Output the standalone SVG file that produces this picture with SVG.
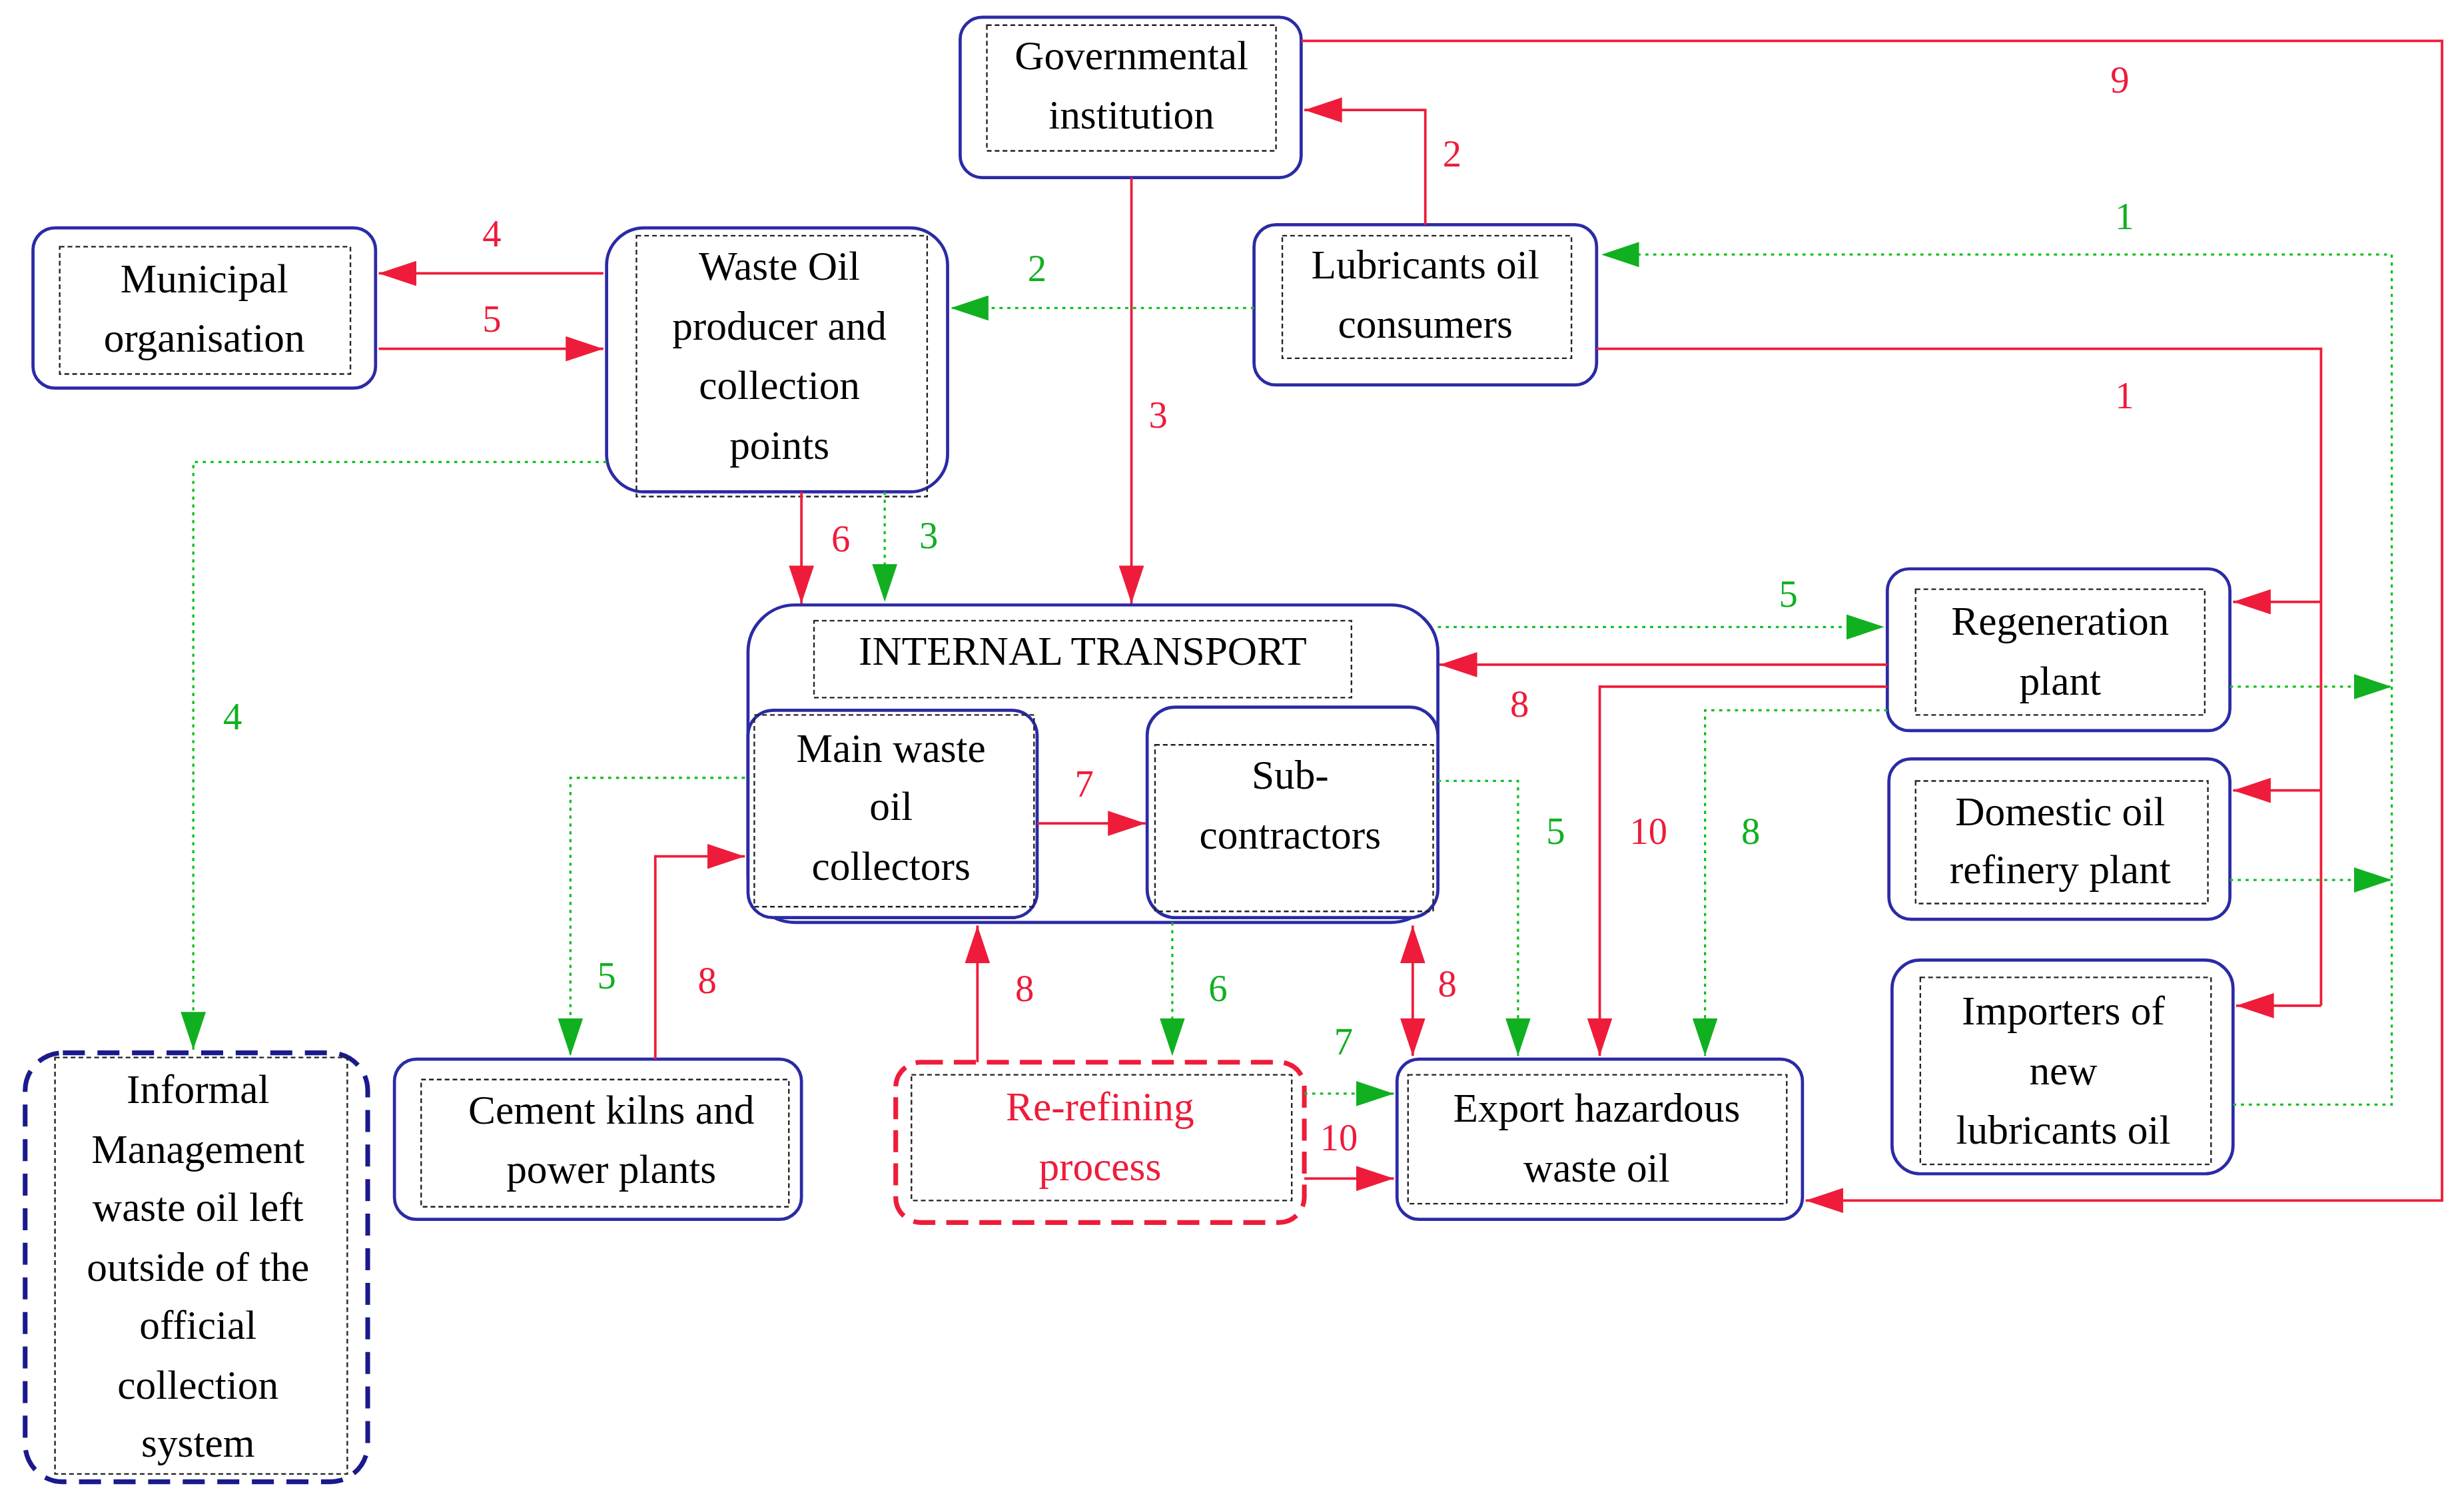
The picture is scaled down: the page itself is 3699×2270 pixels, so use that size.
<svg xmlns="http://www.w3.org/2000/svg" width="3699" height="2270" viewBox="0 0 3699 2270">
<style>
.box{fill:#fff;stroke:#2b2ba6;stroke-width:2}
.in{fill:none;stroke:#222;stroke-width:1;stroke-dasharray:3 2}
.t{font-family:"Liberation Serif",serif;font-size:26px;fill:#000;text-anchor:middle}
.r{fill:none;stroke:#ee1c3a;stroke-width:1.6}
.g{fill:none;stroke:#10c020;stroke-width:1.4;stroke-dasharray:2 3}
.lr{font-family:"Liberation Serif",serif;font-size:24px;fill:#ee1c3a;text-anchor:middle}
.lg{font-family:"Liberation Serif",serif;font-size:24px;fill:#10b020;text-anchor:middle}
</style>
<defs>
<marker id="ar" markerUnits="userSpaceOnUse" markerWidth="24" markerHeight="16" refX="24" refY="8" orient="auto-start-reverse" viewBox="0 0 24 16"><path d="M0,0L24,8L0,16z" fill="#ee1c3a"/></marker>
<marker id="ag" markerUnits="userSpaceOnUse" markerWidth="24" markerHeight="16" refX="24" refY="8" orient="auto" viewBox="0 0 24 16"><path d="M0,0L24,8L0,16z" fill="#10b020"/></marker>
</defs>
<rect width="3699" height="2270" fill="#fff"/>
<g transform="scale(2.3591)">
<g id="gov"><rect class="box" x="611" y="11" width="217" height="102" rx="14"/><rect class="in" x="628" y="16" width="184" height="80"/><text class="t" x="720" y="44">Governmental</text><text class="t" x="720" y="82">institution</text></g>
<g id="municipal"><rect class="box" x="21" y="145" width="218" height="102" rx="14"/><rect class="in" x="38" y="157" width="185" height="81"/><text class="t" x="130" y="186">Municipal</text><text class="t" x="130" y="224">organisation</text></g>
<g id="wasteoil"><rect class="box" x="386" y="145" width="217" height="168" rx="24"/><rect class="in" x="405" y="150" width="185" height="166"/><text class="t" x="496" y="178">Waste Oil</text><text class="t" x="496" y="216">producer and</text><text class="t" x="496" y="254">collection</text><text class="t" x="496" y="292">points</text></g>
<g id="lub"><rect class="box" x="798" y="143" width="218" height="102" rx="14"/><rect class="in" x="816" y="150" width="184" height="78"/><text class="t" x="907" y="177">Lubricants oil</text><text class="t" x="907" y="215">consumers</text></g>
<g id="internal"><rect class="box" x="476" y="385" width="439" height="202" rx="30"/><rect class="in" x="518" y="395" width="342" height="49"/><text class="t" x="689" y="423">INTERNAL TRANSPORT</text></g>
<g id="main"><rect class="box" x="476" y="452" width="184" height="132" rx="16"/><rect class="in" x="480" y="455" width="178" height="122"/><text class="t" x="567" y="485">Main waste</text><text class="t" x="567" y="522">oil</text><text class="t" x="567" y="560">collectors</text></g>
<g id="sub"><rect class="box" x="730" y="450" width="185" height="134" rx="18"/><rect class="in" x="735" y="474" width="177" height="106"/><text class="t" x="821" y="502">Sub-</text><text class="t" x="821" y="540">contractors</text></g>
<g id="regen"><rect class="box" x="1201" y="362" width="218" height="103" rx="14"/><rect class="in" x="1219" y="375" width="184" height="80"/><text class="t" x="1311" y="404">Regeneration</text><text class="t" x="1311" y="442">plant</text></g>
<g id="domestic"><rect class="box" x="1202" y="483" width="217" height="102" rx="14"/><rect class="in" x="1219" y="497" width="186" height="78"/><text class="t" x="1311" y="525">Domestic oil</text><text class="t" x="1311" y="562">refinery plant</text></g>
<g id="importers"><rect class="box" x="1204" y="611" width="217" height="136" rx="18"/><rect class="in" x="1222" y="622" width="185" height="119"/><text class="t" x="1313" y="652">Importers of</text><text class="t" x="1313" y="690">new</text><text class="t" x="1313" y="728">lubricants oil</text></g>
<g id="informal"><rect x="16" y="670" width="218" height="273" rx="24" fill="#fff" stroke="#1a1a8c" stroke-width="3" stroke-dasharray="14 8"/><rect class="in" x="35" y="673" width="186" height="265"/><text class="t" x="126" y="702">Informal</text><text class="t" x="126" y="740">Management</text><text class="t" x="126" y="777">waste oil left</text><text class="t" x="126" y="815">outside of the</text><text class="t" x="126" y="852">official</text><text class="t" x="126" y="890">collection</text><text class="t" x="126" y="927">system</text></g>
<g id="cement"><rect class="box" x="251" y="674" width="259" height="102" rx="14"/><rect class="in" x="268" y="687" width="234" height="81"/><text class="t" x="389" y="715">Cement kilns and</text><text class="t" x="389" y="753">power plants</text></g>
<g id="rerefining"><rect x="570" y="676" width="260" height="102" rx="16" fill="#fff" stroke="#ee1c3a" stroke-width="3" stroke-dasharray="14 7"/><rect class="in" x="580" y="684" width="242" height="80"/><text class="t" x="700" y="713" style="fill:#ee1c3a">Re-refining</text><text class="t" x="700" y="751" style="fill:#ee1c3a">process</text></g>
<g id="export"><rect class="box" x="889" y="674" width="258" height="102" rx="14"/><rect class="in" x="896" y="684" width="241" height="82"/><text class="t" x="1016" y="714">Export hazardous</text><text class="t" x="1016" y="752">waste oil</text></g>
<g id="connectors">
<path class="r" d="M907,143V70H830" marker-end="url(#ar)"/><text class="lr" x="924" y="106">2</text>
<path class="r" d="M720,113V384" marker-end="url(#ar)"/><text class="lr" x="737" y="272">3</text>
<path class="r" d="M384,174H241" marker-end="url(#ar)"/><text class="lr" x="313" y="157">4</text>
<path class="r" d="M241,222H384" marker-end="url(#ar)"/><text class="lr" x="313" y="211">5</text>
<path class="r" d="M510,313V384" marker-end="url(#ar)"/><text class="lr" x="535" y="351">6</text>
<path class="r" d="M828,26H1554V764H1149" marker-end="url(#ar)"/><text class="lr" x="1349" y="59">9</text>
<path class="r" d="M1016,222H1477V640"/>
<path class="r" d="M1477,383H1421" marker-end="url(#ar)"/>
<path class="r" d="M1477,503H1421" marker-end="url(#ar)"/>
<path class="r" d="M1477,640H1423" marker-end="url(#ar)"/><text class="lr" x="1352" y="260">1</text>
<path class="r" d="M1201,423H916" marker-end="url(#ar)"/><text class="lr" x="967" y="456">8</text>
<path class="r" d="M1201,437H1018V672" marker-end="url(#ar)"/><text class="lr" x="1049" y="537">10</text>
<path class="r" d="M660,524H729" marker-end="url(#ar)"/><text class="lr" x="690" y="507">7</text>
<path class="r" d="M417,674V545H474" marker-end="url(#ar)"/><text class="lr" x="450" y="632">8</text>
<path class="r" d="M622,676V589" marker-end="url(#ar)"/><text class="lr" x="652" y="637">8</text>
<path class="r" d="M899,589V672" marker-start="url(#ar)" marker-end="url(#ar)"/><text class="lr" x="921" y="634">8</text>
<path class="r" d="M830,750H887" marker-end="url(#ar)"/><text class="lr" x="852" y="732">10</text>
<path class="g" d="M798,196H605" marker-end="url(#ag)"/><text class="lg" x="660" y="179">2</text>
<path class="g" d="M563,313V383" marker-end="url(#ag)"/><text class="lg" x="591" y="349">3</text>
<path class="g" d="M386,294H123V668" marker-end="url(#ag)"/><text class="lg" x="148" y="464">4</text>
<path class="g" d="M474,495H363V672" marker-end="url(#ag)"/><text class="lg" x="386" y="629">5</text>
<path class="g" d="M915,399H1199" marker-end="url(#ag)"/><text class="lg" x="1138" y="386">5</text>
<path class="g" d="M915,497H966V672" marker-end="url(#ag)"/><text class="lg" x="990" y="537">5</text>
<path class="g" d="M1201,452H1085V672" marker-end="url(#ag)"/><text class="lg" x="1114" y="537">8</text>
<path class="g" d="M746,587V672" marker-end="url(#ag)"/><text class="lg" x="775" y="637">6</text>
<path class="g" d="M830,696H887" marker-end="url(#ag)"/><text class="lg" x="855" y="671">7</text>
<path class="g" d="M1421,703H1522V162H1019" marker-end="url(#ag)"/><text class="lg" x="1352" y="146">1</text>
<path class="g" d="M1419,437H1522" marker-end="url(#ag)"/>
<path class="g" d="M1419,560H1522" marker-end="url(#ag)"/>
</g>
</g>
</svg>
